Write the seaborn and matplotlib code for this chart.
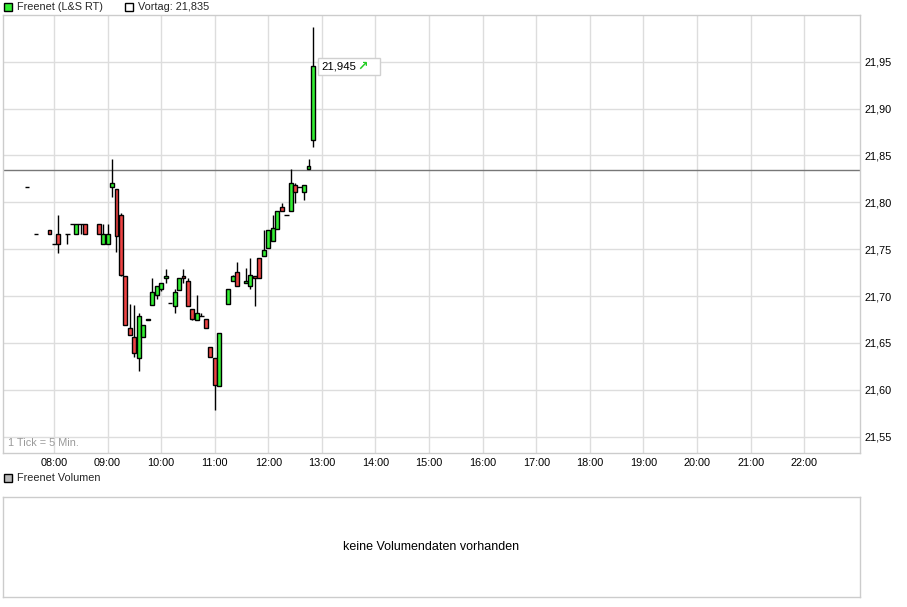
import matplotlib
matplotlib.use("Agg")
import matplotlib.pyplot as plt
from matplotlib.patches import Rectangle
import seaborn as sns
import numpy as np
import pandas as pd

# ---- data ----
times = ["07:30", "07:40", "07:55", "08:00", "08:05", "08:15", "08:20", "08:25", "08:30", "08:35",
         "08:50", "08:55", "09:00", "09:05", "09:10", "09:15", "09:20", "09:25", "09:30", "09:35",
         "09:40", "09:45", "09:50", "09:55", "10:00", "10:05", "10:10", "10:15", "10:20", "10:25",
         "10:30", "10:35", "10:40", "10:45", "10:50", "10:55", "11:00", "11:05", "11:15", "11:20",
         "11:25", "11:35", "11:40", "11:45", "11:50", "11:55", "12:00", "12:05", "12:10", "12:15",
         "12:20", "12:25", "12:30", "12:35", "12:40", "12:45", "12:50"]
opens = [21.816, 21.766, 21.771, 21.756, 21.766, 21.766, 21.777, 21.766, 21.777, 21.777,
         21.777, 21.756, 21.756, 21.816, 21.814, 21.786, 21.721, 21.666, 21.656, 21.634,
         21.656, 21.674, 21.691, 21.701, 21.708, 21.719, 21.693, 21.689, 21.706, 21.721,
         21.716, 21.686, 21.674, 21.679, 21.676, 21.646, 21.634, 21.604, 21.692, 21.716,
         21.726, 21.714, 21.711, 21.721, 21.741, 21.743, 21.751, 21.759, 21.772, 21.795,
         21.786, 21.791, 21.818, 21.816, 21.811, 21.836, 21.866]
highs = [21.816, 21.766, 21.771, 21.756, 21.786, 21.766, 21.777, 21.777, 21.777, 21.777,
         21.777, 21.777, 21.777, 21.846, 21.814, 21.789, 21.721, 21.692, 21.690, 21.682,
         21.669, 21.676, 21.719, 21.711, 21.714, 21.729, 21.693, 21.708, 21.719, 21.729,
         21.719, 21.686, 21.701, 21.682, 21.676, 21.646, 21.634, 21.661, 21.708, 21.723,
         21.736, 21.730, 21.741, 21.721, 21.741, 21.771, 21.771, 21.786, 21.791, 21.799,
         21.786, 21.836, 21.821, 21.816, 21.818, 21.846, 21.987]
lows = [21.816, 21.766, 21.766, 21.756, 21.746, 21.756, 21.777, 21.766, 21.766, 21.766,
        21.766, 21.756, 21.756, 21.806, 21.747, 21.721, 21.669, 21.658, 21.635, 21.620,
        21.656, 21.674, 21.691, 21.697, 21.705, 21.714, 21.693, 21.682, 21.706, 21.714,
        21.689, 21.674, 21.674, 21.679, 21.666, 21.635, 21.578, 21.604, 21.692, 21.716,
        21.711, 21.714, 21.708, 21.689, 21.719, 21.743, 21.751, 21.759, 21.772, 21.791,
        21.786, 21.791, 21.799, 21.816, 21.803, 21.836, 21.859]
closes = [21.816, 21.766, 21.766, 21.756, 21.756, 21.766, 21.777, 21.777, 21.777, 21.766,
          21.766, 21.766, 21.766, 21.821, 21.764, 21.723, 21.669, 21.658, 21.639, 21.679,
          21.669, 21.676, 21.704, 21.711, 21.714, 21.721, 21.693, 21.704, 21.719, 21.719,
          21.689, 21.676, 21.682, 21.679, 21.666, 21.635, 21.605, 21.661, 21.708, 21.721,
          21.711, 21.716, 21.723, 21.719, 21.719, 21.749, 21.771, 21.773, 21.791, 21.791,
          21.786, 21.821, 21.811, 21.816, 21.818, 21.839, 21.945]
prev_close = 21.835
last_price = 21.945
hour_labels = ["08:00", "09:00", "10:00", "11:00", "12:00", "13:00", "14:00", "15:00",
               "16:00", "17:00", "18:00", "19:00", "20:00", "21:00", "22:00"]
price_ticks = [21.55, 21.60, 21.65, 21.70, 21.75, 21.80, 21.85, 21.90, 21.95]


def to_min(s):
    h, m = s.split(":")
    return int(h) * 60 + int(m)


df = pd.DataFrame({"t": [to_min(t) for t in times], "open": opens, "high": highs,
                   "low": lows, "close": closes})
df["up"] = df["close"] >= df["open"]

sns.set_theme(style="white")
plt.rcParams["font.family"] = ["Liberation Sans", "DejaVu Sans"]
FS = 7.8

W, H = 907, 607
fig = plt.figure(figsize=(W / 100, H / 100), dpi=100)
fig.patch.set_facecolor("white")


def fx(px):
    return px / W


def fy(py):
    return 1 - py / H


GREEN = "#33ee33"
RED = "#ee4444"
GRID = "#dddddd"
BORDER = "#cccccc"

# main axes
L, R, T, B = 2.7, 860.3, 15.0, 453.3
ax = fig.add_axes([fx(L), fy(B), fx(R - L), (B - T) / H])
ax.set_xlim(422.6, 1382.8)
ax.set_ylim(21.5323, 21.9998)
ax.set_facecolor("white")

for s in ax.spines.values():
    s.set_color(BORDER)
    s.set_linewidth(1)

hour_pos = [to_min(h) for h in hour_labels]
ax.set_xticks(hour_pos)
ax.set_xticklabels(hour_labels)
ax.set_yticks(price_ticks)
ax.set_yticklabels([f"{p:.2f}".replace(".", ",") for p in price_ticks])
ax.yaxis.tick_right()
ax.tick_params(axis="both", length=0, labelsize=FS, colors="black")
ax.tick_params(axis="y", pad=3)
ax.tick_params(axis="x", pad=3.5)
ax.grid(True, color=GRID, linewidth=1)
ax.set_axisbelow(True)

# previous close line
ax.axhline(prev_close, color="#777777", linewidth=1, zorder=2)

# candles: wicks
ax.vlines(df["t"], df["low"], df["high"], color="black", linewidth=1, zorder=3)
# bodies
body_w = 4.4
bottoms = np.minimum(df["open"], df["close"])
heights = np.abs(df["close"] - df["open"])
colors = [GREEN if u else RED for u in df["up"]]
for t, b, h, c in zip(df["t"], bottoms, heights, colors):
    if h < 0.0008:
        ax.hlines(b, t - body_w / 2 - 0.4, t + body_w / 2 + 0.4, color="black",
                  linewidth=1, zorder=4)
    else:
        ax.bar(t, h, bottom=b, width=body_w, color=c, edgecolor="black",
               linewidth=1, zorder=4)

# last price label
lx = df["t"].iloc[-1] + 5.1
ax.add_patch(Rectangle((lx, last_price - 0.0093), 69.4, 0.0183, facecolor="white",
                       edgecolor="#d0d0d0", linewidth=1, zorder=5))
ax.text(lx + 4.0, last_price, f"{last_price:.3f}".replace(".", ","), fontsize=FS + 0.4,
        va="center", ha="left", color="black", zorder=6)
ax.text(lx + 45, last_price, "\u2197", fontsize=9, va="center", ha="left",
        color="#22cc22", fontweight="bold", family="DejaVu Sans", zorder=6)

ax.text(0.0062, 0.0235, "1 Tick = 5 Min.", transform=ax.transAxes, fontsize=FS,
        color="#999999", va="center", ha="left")

# legends (top)
fig.add_artist(Rectangle((fx(4), fy(11)), fx(8), 8 / H, facecolor=GREEN,
                         edgecolor="black", linewidth=1, transform=fig.transFigure))
fig.text(fx(17), fy(7), "Freenet (L&S RT)", fontsize=FS, va="center", ha="left")
fig.add_artist(Rectangle((fx(125), fy(11)), fx(8), 8 / H, facecolor="white",
                         edgecolor="black", linewidth=1, transform=fig.transFigure))
fig.text(fx(138), fy(7), f"Vortag: {prev_close:.3f}".replace(".", ","), fontsize=FS,
         va="center", ha="left")

# volume panel
fig.add_artist(Rectangle((fx(4), fy(482)), fx(8), 8 / H, facecolor="#bbbbbb",
                         edgecolor="black", linewidth=1, transform=fig.transFigure))
fig.text(fx(17), fy(478), "Freenet Volumen", fontsize=FS, va="center", ha="left")

ax2 = fig.add_axes([fx(L), fy(596.7), fx(R - L), 100 / H])
ax2.set_xticks([])
ax2.set_yticks([])
for s in ax2.spines.values():
    s.set_color(BORDER)
    s.set_linewidth(1)
ax2.text(0.5, 0.5, "keine Volumendaten vorhanden", transform=ax2.transAxes,
         fontsize=9, ha="center", va="center", color="black")

fig.savefig("out.png", dpi=100, facecolor="white")
